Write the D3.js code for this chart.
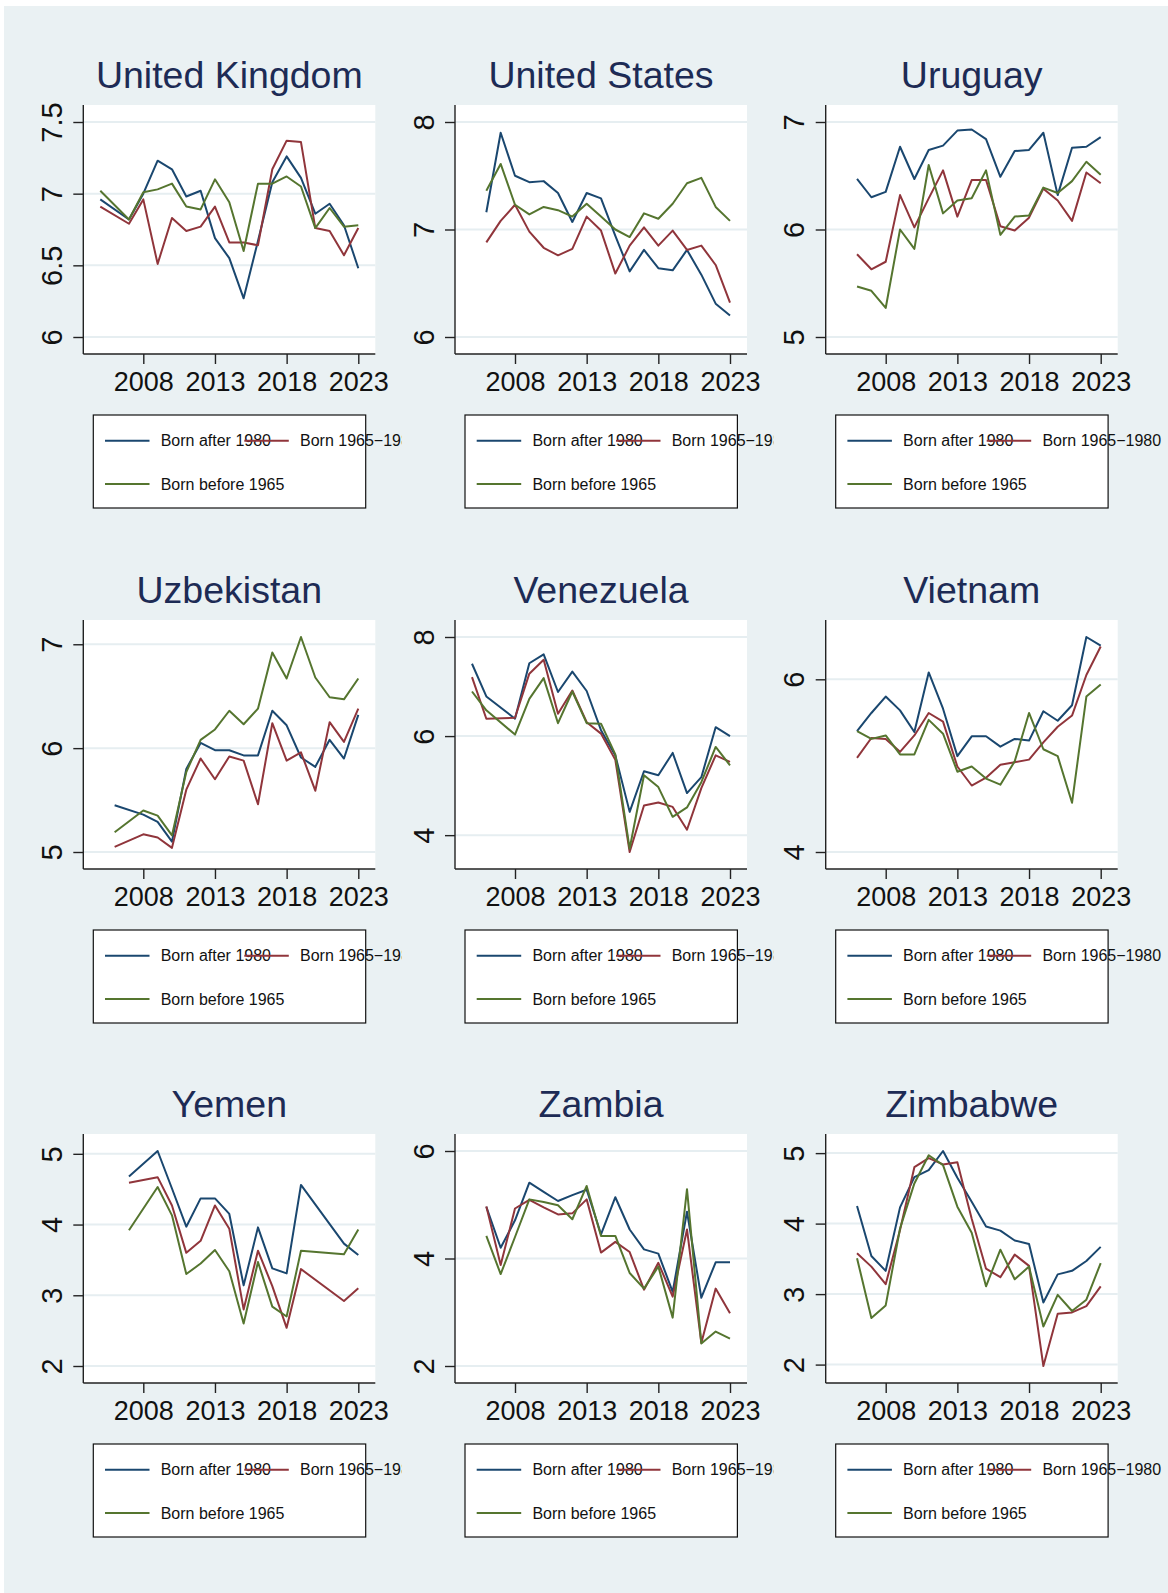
<!DOCTYPE html>
<html><head><meta charset="utf-8">
<script src="https://cdn.jsdelivr.net/npm/d3@7"></script>
<style>body{margin:0;background:#fff;} svg{display:block;}</style>
</head><body><svg id="c" width="1168" height="1593"></svg>
<script>
// ---------- DATA ----------
const years = [2005,2006,2007,2008,2009,2010,2011,2012,2013,2014,2015,2016,2017,2018,2019,2020,2021,2022,2023];
const xTicks = [2008, 2013, 2018, 2023];
const seriesNames = ["Born after 1980", "Born 1965\u22121980", "Born before 1965"];
const countries = ["United Kingdom","United States","Uruguay","Uzbekistan","Venezuela","Vietnam","Yemen","Zambia","Zimbabwe"];

const ukAfter1980  = [6.96,null,6.82,7.00,7.23,7.17,6.98,7.02,6.69,6.55,6.27,6.67,7.08,7.26,7.11,6.86,6.93,6.78,6.48];
const uk1965to1980 = [6.91,null,6.79,6.96,6.51,6.83,6.74,6.77,6.91,6.66,6.66,6.64,7.17,7.37,7.36,6.76,6.74,6.57,6.76];
const ukBefore1965 = [7.02,null,6.82,7.01,7.03,7.07,6.91,6.89,7.10,6.94,6.60,7.07,7.07,7.12,7.05,6.76,6.90,6.77,6.78];
const ukTicks = [6, 6.5, 7, 7.5];

const usAfter1980  = [null,7.16,7.90,7.50,7.44,7.45,7.34,7.07,7.34,7.29,6.94,6.61,6.81,6.64,6.62,6.81,6.58,6.31,6.20];
const us1965to1980 = [null,6.88,7.08,7.23,6.98,6.83,6.76,6.82,7.12,6.99,6.59,6.85,7.02,6.85,6.99,6.81,6.85,6.67,6.32];
const usBefore1965 = [null,7.36,7.61,7.23,7.14,7.21,7.18,7.12,7.24,7.12,7.00,6.93,7.15,7.10,7.24,7.43,7.48,7.21,7.08];
const usTicks = [6, 7, 8];

const uyAfter1980  = [null,6.47,6.30,6.35,6.77,6.47,6.74,6.78,6.92,6.93,6.84,6.49,6.73,6.74,6.90,6.32,6.76,6.77,6.86];
const uy1965to1980 = [null,5.77,5.63,5.70,6.32,6.02,6.29,6.55,6.12,6.46,6.46,6.03,5.99,6.11,6.38,6.27,6.08,6.53,6.43];
const uyBefore1965 = [null,5.47,5.43,5.27,6.00,5.82,6.60,6.15,6.27,6.29,6.55,5.95,6.12,6.13,6.39,6.34,6.45,6.63,6.51];
const uyTicks = [5, 6, 7];

const uzAfter1980  = [null,5.45,null,5.36,5.29,5.10,5.80,6.05,5.98,5.98,5.93,5.93,6.36,6.22,5.91,5.82,6.08,5.90,6.32];
const uz1965to1980 = [null,5.05,null,5.17,5.14,5.04,5.60,5.90,5.70,5.92,5.88,5.46,6.24,5.88,5.96,5.59,6.25,6.06,6.38];
const uzBefore1965 = [null,5.19,null,5.40,5.35,5.16,5.77,6.08,6.18,6.36,6.23,6.38,6.92,6.67,7.07,6.68,6.49,6.47,6.67];
const uzTicks = [5, 6, 7];

const veAfter1980  = [7.46,6.80,null,6.35,7.47,7.65,6.89,7.30,6.91,6.12,5.61,4.47,5.29,5.21,5.66,4.85,5.17,6.18,6.00];
const ve1965to1980 = [7.19,6.35,null,6.37,7.26,7.54,6.45,6.92,6.28,6.05,5.52,3.66,4.60,4.66,4.57,4.11,4.95,5.61,5.48];
const veBefore1965 = [6.90,6.52,null,6.03,6.75,7.17,6.26,6.90,6.26,6.25,5.63,3.73,5.21,4.97,4.37,4.56,5.07,5.78,5.41];
const veTicks = [4, 6, 8];

const vnAfter1980  = [null,5.40,5.61,5.80,5.64,5.39,6.08,5.66,5.11,5.34,5.34,5.22,5.31,5.29,5.63,5.52,5.70,6.49,6.39];
const vn1965to1980 = [null,5.09,5.32,5.31,5.16,5.35,5.61,5.51,4.99,4.77,4.86,5.01,5.04,5.07,5.27,5.45,5.58,6.05,6.38];
const vnBefore1965 = [null,5.40,5.31,5.35,5.13,5.13,5.53,5.37,4.93,4.99,4.85,4.78,5.05,5.61,5.19,5.11,4.57,5.80,5.94];
const vnTicks = [4, 6];

const yeAfter1980  = [null,null,4.68,null,5.04,4.51,3.97,4.37,4.37,4.15,3.14,3.96,3.38,3.31,4.56,null,null,3.73,3.57];
const ye1965to1980 = [null,null,4.59,null,4.67,4.27,3.60,3.77,4.27,3.94,2.80,3.63,3.13,2.54,3.37,null,null,2.92,3.10];
const yeBefore1965 = [null,null,3.92,null,4.53,4.13,3.30,3.45,3.64,3.34,2.60,3.47,2.84,2.70,3.63,null,null,3.58,3.93];
const yeTicks = [2, 3, 4, 5];

const zmAfter1980  = [null,4.96,4.20,4.71,5.41,5.24,5.07,5.18,5.28,4.45,5.14,4.54,4.17,4.09,3.38,4.87,3.27,3.93,3.93];
const zm1965to1980 = [null,4.97,3.88,4.93,5.09,4.95,4.82,4.84,5.10,4.11,4.31,4.12,3.42,3.92,3.29,4.54,2.43,3.44,2.98];
const zmBefore1965 = [null,4.42,3.71,4.40,5.10,5.05,4.99,4.73,5.35,4.42,4.42,3.73,3.44,3.85,2.90,5.29,2.42,2.64,2.51];
const zmTicks = [2, 4, 6];

const zwAfter1980  = [null,4.25,3.54,3.33,4.23,4.66,4.76,5.03,4.65,4.31,3.96,3.90,3.76,3.71,2.88,3.28,3.33,3.47,3.67];
const zw1965to1980 = [null,3.58,3.39,3.14,3.91,4.80,4.93,4.84,4.87,4.07,3.36,3.24,3.56,3.40,1.98,2.72,2.74,2.83,3.11];
const zwBefore1965 = [null,3.51,2.66,2.84,3.93,4.57,4.97,4.83,4.24,3.87,3.11,3.63,3.21,3.39,2.54,2.99,2.76,2.92,3.44];
const zwTicks = [2, 3, 4, 5];

// ---------- BUILD TABLE ----------
const panels = [
  {name: countries[0], series: [ukAfter1980, uk1965to1980, ukBefore1965], ticks: ukTicks},
  {name: countries[1], series: [usAfter1980, us1965to1980, usBefore1965], ticks: usTicks},
  {name: countries[2], series: [uyAfter1980, uy1965to1980, uyBefore1965], ticks: uyTicks},
  {name: countries[3], series: [uzAfter1980, uz1965to1980, uzBefore1965], ticks: uzTicks},
  {name: countries[4], series: [veAfter1980, ve1965to1980, veBefore1965], ticks: veTicks},
  {name: countries[5], series: [vnAfter1980, vn1965to1980, vnBefore1965], ticks: vnTicks},
  {name: countries[6], series: [yeAfter1980, ye1965to1980, yeBefore1965], ticks: yeTicks},
  {name: countries[7], series: [zmAfter1980, zm1965to1980, zmBefore1965], ticks: zmTicks},
  {name: countries[8], series: [zwAfter1980, zw1965to1980, zwBefore1965], ticks: zwTicks}
];

// ---------- STYLE / LAYOUT ----------
const colors = ["#1a476f", "#90353b", "#55752f"];
const FONT = "'Liberation Sans', Arial, Helvetica, sans-serif";
const colLeft = [83.3, 455, 825.7];
const rowTop = [105, 620, 1134];
const plotW = 292, plotH = 249, pad = 17;
const bg = "#eaf1f3";

const svg = d3.select("#c");
svg.append("rect").attr("x", 4).attr("y", 6).attr("width", 1164).attr("height", 1587).attr("fill", bg);

const defs = svg.append("defs");

panels.forEach((p, i) => {
  const c = i % 3, r = Math.floor(i / 3);
  const L = colLeft[c], T = rowTop[r];
  const g = svg.append("g").attr("transform", `translate(${L},${T})`);

  const x = d3.scaleLinear().domain([years[0], years[years.length - 1]]).range([pad, plotW - pad]);
  const allVals = p.series.flat().filter(v => v != null).concat(p.ticks);
  const y = d3.scaleLinear().domain(d3.extent(allVals)).range([plotH - pad, pad]);

  // plot region
  g.append("rect").attr("width", plotW).attr("height", plotH).attr("fill", "#fff");

  // gridlines
  g.selectAll(".grid").data(p.ticks).join("line")
    .attr("x1", 0).attr("x2", plotW)
    .attr("y1", d => y(d)).attr("y2", d => y(d))
    .attr("stroke", "#e6eef1").attr("stroke-width", 2);

  // lines
  p.series.forEach((s, k) => {
    const pts = years.map((yr, j) => ({yr, v: s[j]})).filter(d => d.v != null);
    g.append("path").datum(pts)
      .attr("fill", "none").attr("stroke", colors[k]).attr("stroke-width", 2)
      .attr("stroke-linejoin", "round")
      .attr("d", d3.line().x(d => x(d.yr)).y(d => y(d.v)));
  });

  // y axis
  const ya = g.append("g").call(d3.axisLeft(y).tickValues(p.ticks).tickSize(10).tickSizeOuter(0)
      .tickFormat(d3.format("~g")));
  ya.select(".domain").remove();
  ya.selectAll(".tick line").attr("stroke", "#222").attr("stroke-width", 1.4);
  ya.selectAll(".tick text")
    .attr("transform", "rotate(-90)")
    .attr("x", 0).attr("y", -21.5).attr("dy", 0)
    .attr("text-anchor", "middle")
    .attr("font-family", FONT).attr("font-size", 29).attr("fill", "#111");

  // x axis
  const xa = g.append("g").attr("transform", `translate(0,${plotH})`)
    .call(d3.axisBottom(x).tickValues(xTicks).tickSize(10).tickSizeOuter(0).tickFormat(d3.format("d")));
  xa.select(".domain").remove();
  xa.selectAll(".tick line").attr("stroke", "#222").attr("stroke-width", 1.4);
  xa.selectAll(".tick text")
    .attr("y", 37).attr("dy", 0)
    .attr("font-family", FONT).attr("font-size", 27).attr("fill", "#111");

  // axis lines
  g.append("line").attr("x1", 0).attr("x2", 0).attr("y1", 0).attr("y2", plotH)
    .attr("stroke", "#222").attr("stroke-width", 1.4);
  g.append("line").attr("x1", 0).attr("x2", plotW).attr("y1", plotH).attr("y2", plotH)
    .attr("stroke", "#222").attr("stroke-width", 1.4);

  // title
  g.append("text").attr("x", plotW / 2).attr("y", -16.7)
    .attr("text-anchor", "middle").attr("font-family", FONT).attr("font-size", 37.5)
    .attr("fill", "#1d2b55").text(p.name);

  // legend (clipped at the subgraph's right edge)
  const legX = 10;
  const clipRight = (c < 2 ? 318.4 : 1168 - L) - legX;
  defs.append("clipPath").attr("id", "clip" + i)
    .append("rect").attr("x", -20).attr("y", -20).attr("width", clipRight + 20).attr("height", 140);
  const lg = g.append("g").attr("transform", `translate(${legX},${plotH + 61})`)
    .append("g").attr("clip-path", `url(#clip${i})`);
  lg.append("rect").attr("width", 272.4).attr("height", 93)
    .attr("fill", "#fff").attr("stroke", "#111").attr("stroke-width", 1.2);
  const pos = [[11.7, 25.7], [151, 25.7], [11.7, 69]];
  seriesNames.forEach((nm, k) => {
    const [lx, ly] = pos[k];
    lg.append("line").attr("x1", lx).attr("x2", lx + 44.5).attr("y1", ly).attr("y2", ly)
      .attr("stroke", colors[k]).attr("stroke-width", 2);
    lg.append("text").attr("x", lx + 55.7).attr("y", ly + 5.6)
      .attr("font-family", FONT).attr("font-size", 16).attr("fill", "#111").text(nm);
  });
});
</script>
</body></html>
